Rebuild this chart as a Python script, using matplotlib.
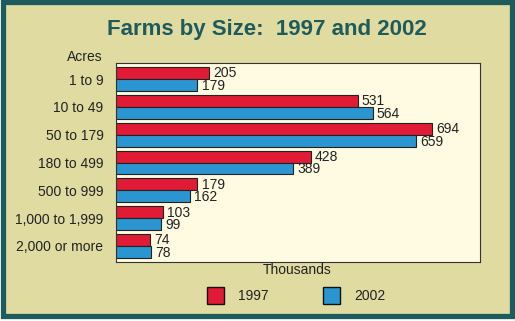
import numpy as np
import matplotlib
matplotlib.use("Agg")
import matplotlib.pyplot as plt
from matplotlib.patches import Rectangle

plt.rcParams['font.family'] = ['Liberation Sans', 'DejaVu Sans']

# data (thousands of farms)
categories = ['1 to 9', '10 to 49', '50 to 179', '180 to 499',
              '500 to 999', '1,000 to 1,999', '2,000 or more']
farms_1997 = [205, 531, 694, 428, 179, 103, 74]
farms_2002 = [179, 564, 659, 389, 162, 99, 78]
years = ['1997', '2002']

red = '#e11b36'
blue = '#2a95d0'
teal = '#1e5b5c'
tan = '#e0dba1'
cream = '#fffbe2'
fs = 10

W, H = 515, 321
fig = plt.figure(figsize=(W/100., H/100.), dpi=100)
fig.patch.set_facecolor('white')

# frame, drawn behind the axes
fig.patches.append(Rectangle((3/W, 5/H), 509/W, 314/H, transform=fig.transFigure,
                             facecolor=tan, edgecolor=teal, linewidth=3.8, zorder=-10))

fig.text(267/W, 1-30/H, 'Farms by Size:  1997 and 2002', ha='center', va='center',
         fontsize=16, fontweight='bold', color=teal)

ax = fig.add_axes([116/W, 1-262/H, (480-116)/W, (262-63)/H])
ax.set_facecolor(cream)

y = np.arange(len(categories))
bh = 0.43
ax.barh(y - 0.215, farms_1997, height=bh, color=red, edgecolor='#222222', linewidth=0.8)
ax.barh(y + 0.215, farms_2002, height=bh, color=blue, edgecolor='#222222', linewidth=0.8)

for yy, v in zip(y, farms_1997):
    ax.annotate(str(v), (v, yy - 0.2), xytext=(3, 0), textcoords='offset points',
                va='center', ha='left', fontsize=fs, color='#222222')
for yy, v in zip(y, farms_2002):
    ax.annotate(str(v), (v, yy + 0.25), xytext=(3, 0), textcoords='offset points',
                va='center', ha='left', fontsize=fs, color='#222222')

ax.set_xlim(0, 800)
ax.set_ylim(len(categories) - 0.425, -0.575)
ax.set_xticks([])
ax.set_yticks(y)
ax.set_yticklabels(categories, fontsize=fs, color='#222222')
ax.tick_params(axis='y', length=0, pad=9)
for s in ax.spines.values():
    s.set_linewidth(0.8)
    s.set_color('#333333')

fig.text(103/W, 1-57/H, 'Acres', ha='right', va='center', fontsize=fs, color='#222222')
fig.text(297/W, 1-270/H, 'Thousands', ha='center', va='center', fontsize=fs, color='#222222')

# legend
for x0, col, lab in [(207, red, years[0]), (323, blue, years[1])]:
    fig.patches.append(Rectangle((x0/W, 1-304/H), 17/W, 17/H, transform=fig.transFigure,
                                 facecolor=col, edgecolor='#111111', linewidth=1.0, zorder=3))
    fig.text((x0+31)/W, 1-296/H, lab, ha='left', va='center', fontsize=fs, color='#222222')

fig.savefig('out.png', dpi=100, facecolor=fig.get_facecolor())
